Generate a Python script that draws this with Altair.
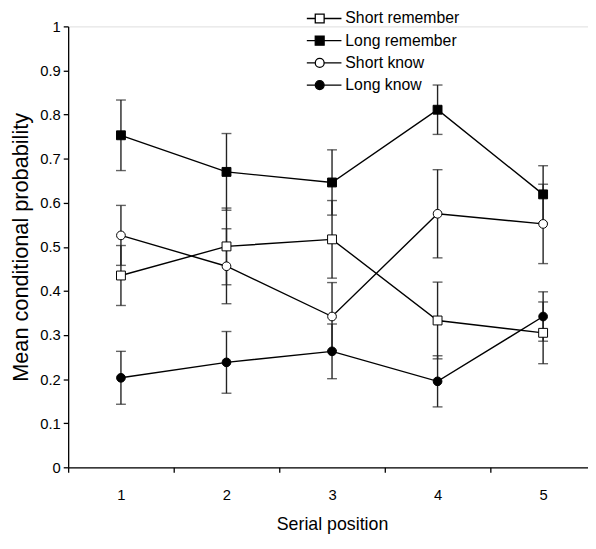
import altair as alt
import pandas as pd

# ---- data ----
positions = [1, 2, 3, 4, 5]
series_names = ["Short remember", "Long remember", "Short know", "Long know"]

short_remember = [0.435, 0.501, 0.517, 0.333, 0.305]
short_remember_err = [0.068, 0.087, 0.088, 0.087, 0.070]
long_remember = [0.753, 0.670, 0.646, 0.811, 0.619]
long_remember_err = [0.080, 0.087, 0.074, 0.056, 0.065]
short_know = [0.526, 0.456, 0.342, 0.575, 0.552]
short_know_err = [0.068, 0.085, 0.077, 0.100, 0.090]
long_know = [0.203, 0.238, 0.263, 0.195, 0.342]
long_know_err = [0.060, 0.070, 0.062, 0.058, 0.056]

y_ticks = [0, 0.1, 0.2, 0.3, 0.4, 0.5, 0.6, 0.7, 0.8, 0.9, 1]

means = [short_remember, long_remember, short_know, long_know]
errs = [short_remember_err, long_remember_err, short_know_err, long_know_err]

rows = []
for name, m, e in zip(series_names, means, errs):
    for p, v, d in zip(positions, m, e):
        rows.append({"series": name, "pos": p, "mean": v, "lo": v - d, "hi": v + d})
df = pd.DataFrame(rows)

FONT = "Liberation Sans"
W = 527
H = 447
BAND = 107

x_enc = alt.X(
    "pos:O",
    scale=alt.Scale(type="band", domain=positions, range=[0, BAND * 5],
                    paddingInner=0, paddingOuter=0),
    axis=alt.Axis(
        title="Serial position", labelAngle=0, tickBand="extent", tickSize=5,
        labelPadding=16, titlePadding=13, labelFontSize=15, titleFontSize=18,
        labelFont=FONT, titleFont=FONT, titleFontWeight="normal",
        domainColor="black", tickColor="black", labelColor="black",
        titleColor="black", domainWidth=1.3, tickWidth=1.3,
    ),
)
y_scale = alt.Scale(domain=[0, 1], nice=False, zero=True)
y_axis = alt.Axis(
    title="Mean conditional probability", values=y_ticks, format="~g",
    tickSize=5, labelPadding=3, titlePadding=7, labelFontSize=15,
    titleFontSize=22, labelFont=FONT, titleFont=FONT, titleFontWeight="normal",
    domainColor="black", tickColor="black", labelColor="black",
    titleColor="black", domainWidth=1.3, tickWidth=1.3, grid=False,
)
y_mean = alt.Y("mean:Q", scale=y_scale, axis=y_axis)

# legend symbols: line with marker (custom paths), used only by the legend
LINE_SQ = "M-1.45,0H-0.5M0.5,0H2.45M-0.5,-0.5H0.5V0.5H-0.5Z"
LINE_CI = "M-1.45,0H-0.5M0.5,0H2.45M0.5,0A0.5,0.5,0,1,1,-0.5,0A0.5,0.5,0,1,1,0.5,0Z"

legend_def = alt.Legend(
    title=None, orient="none", legendX=245, legendY=-18, padding=0,
    symbolSize=324, labelFontSize=16, labelFont=FONT, labelColor="black",
    labelOffset=16, rowPadding=4.5, symbolStrokeWidth=1.3, symbolOpacity=1,
)

fill_enc = alt.Fill(
    "series:N",
    scale=alt.Scale(domain=series_names, range=["white", "black", "white", "black"]),
    legend=legend_def,
)

base = alt.Chart(df)

legend_layer = base.mark_point(filled=True, strokeWidth=1.3, size=324, opacity=0).encode(
    x=x_enc,
    y=y_mean,
    shape=alt.Shape(
        "series:N",
        scale=alt.Scale(domain=series_names, range=[LINE_SQ, LINE_SQ, LINE_CI, LINE_CI]),
        legend=legend_def,
    ),
    stroke=alt.Stroke(
        "series:N",
        scale=alt.Scale(domain=series_names, range=["black", "black", "black", "black"]),
        legend=legend_def,
    ),
    fill=fill_enc,
)

lines = base.mark_line(color="black", strokeWidth=1.4).encode(
    x=x_enc, y=y_mean, detail="series:N"
)
rules = base.mark_rule(color="#222222", strokeWidth=1.4).encode(
    x=x_enc, y=alt.Y("lo:Q", scale=y_scale, axis=y_axis), y2="hi:Q"
)
caps_lo = base.mark_tick(color="#222222", orient="horizontal", size=10, thickness=1.4).encode(
    x=x_enc, y=alt.Y("lo:Q", scale=y_scale, axis=y_axis)
)
caps_hi = base.mark_tick(color="#222222", orient="horizontal", size=10, thickness=1.4).encode(
    x=x_enc, y=alt.Y("hi:Q", scale=y_scale, axis=y_axis)
)

squares = base.transform_filter(
    alt.FieldOneOfPredicate(field="series", oneOf=["Short remember", "Long remember"])
).mark_square(filled=True, stroke="black", strokeWidth=1, size=81, opacity=1).encode(
    x=x_enc, y=y_mean, fill=fill_enc
)
circles = base.transform_filter(
    alt.FieldOneOfPredicate(field="series", oneOf=["Short know", "Long know"])
).mark_circle(stroke="black", strokeWidth=1, size=78, opacity=1).encode(
    x=x_enc, y=y_mean, fill=fill_enc
)

chart = alt.layer(legend_layer, lines, rules, caps_lo, caps_hi, squares, circles).properties(
    width=W, height=H,
    autosize=alt.AutoSizeParams(type="none"),
    padding={"left": 61, "top": 15, "right": 0, "bottom": 66},
).configure_view(stroke=None).configure(background="white")

chart.save("out.html", embed_options={"renderer": "svg", "actions": False})
